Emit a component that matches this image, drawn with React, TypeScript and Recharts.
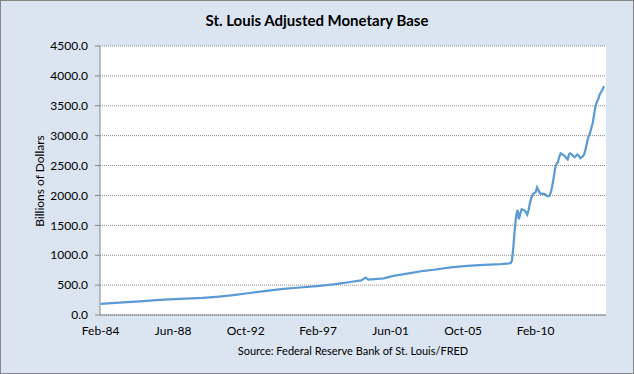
import React from "react";
import { LineChart, Line, XAxis, YAxis, CartesianGrid } from "recharts";

// monthly AMBSL readings (billions of dollars)
const obsDates = [
  "1984-02", "1985-06", "1986-06", "1987-06", "1988-03", "1989-03", "1990-03", "1991-01",
  "1992-01", "1993-01", "1994-01", "1995-01", "1996-01", "1997-01", "1998-01", "1999-01",
  "1999-09", "1999-12", "2000-02", "2001-01", "2001-08", "2002-08", "2003-06", "2004-01",
  "2005-01", "2006-01", "2007-01", "2008-01", "2008-08", "2008-09", "2008-10", "2008-11",
  "2008-12", "2009-01", "2009-02", "2009-03", "2009-04", "2009-05", "2009-06", "2009-07",
  "2009-08", "2009-09", "2009-10", "2009-11", "2009-12", "2010-01", "2010-02", "2010-03",
  "2010-04", "2010-05", "2010-06", "2010-07", "2010-08", "2010-09", "2010-10", "2010-11",
  "2010-12", "2011-01", "2011-02", "2011-03", "2011-04", "2011-05", "2011-06", "2011-07",
  "2011-08", "2011-09", "2011-10", "2011-11", "2011-12", "2012-01", "2012-02", "2012-03",
  "2012-04", "2012-05", "2012-06", "2012-07", "2012-08", "2012-09", "2012-10", "2012-11",
  "2012-12", "2013-01", "2013-02", "2013-03", "2013-04", "2013-05", "2013-06", "2013-07",
  "2013-08", "2013-09", "2013-10", "2013-11", "2013-12", "2014-01", "2014-02", "2014-03",
];
const baseValues = [
  185, 211, 227, 247, 260, 272, 285, 305,
  334, 368, 405, 438, 460, 484, 512, 552,
  580, 625, 592, 612, 655, 700, 740, 757,
  795, 823, 840, 853, 865, 905, 1130, 1420,
  1650, 1760, 1600, 1700, 1770, 1760, 1750, 1720,
  1680, 1760, 1880, 1960, 2020, 2040, 2050, 2135,
  2090, 2040, 2028, 2030, 2025, 2015, 1995, 1985,
  1995, 2060, 2160, 2300, 2450, 2530, 2555, 2650,
  2705, 2690, 2675, 2660, 2620, 2600, 2690, 2705,
  2685, 2660, 2640, 2665, 2685, 2660, 2625, 2640,
  2655, 2700, 2790, 2900, 2990, 3045, 3130, 3210,
  3360, 3500, 3570, 3615, 3690, 3730, 3770, 3830,
];

const xTickDates = ["1984-02", "1988-06", "1992-10", "1997-02", "2001-06", "2005-10", "2010-02"];
const xTickLabels = ["Feb-84", "Jun-88", "Oct-92", "Feb-97", "Jun-01", "Oct-05", "Feb-10"];
const yTicks = [0, 500, 1000, 1500, 2000, 2500, 3000, 3500, 4000, 4500];

const START = "1984-02";
const LAST = "2014-04";

// months since Feb-84
const monthIndex = (d: string) => {
  const [y, m] = d.split("-").map(Number);
  const [y0, m0] = START.split("-").map(Number);
  return (y - y0) * 12 + (m - m0);
};

const data = obsDates.map((d, i) => ({ m: monthIndex(d), v: baseValues[i] }));
const xTicks = xTickDates.map(monthIndex);

const FONT = "Lato, 'Open Sans', sans-serif";

export default function App() {
  return (
    <div
      style={{
        position: "absolute",
        left: 0,
        top: 0,
        width: 634,
        height: 374,
        boxSizing: "border-box",
        border: "1px solid #868686",
        background: "#dbe5f1",
        fontFamily: FONT,
      }}
    >
      <div
        style={{
          position: "absolute",
          left: 0,
          width: 632,
          top: 10,
          textAlign: "center",
          fontWeight: 700,
          fontSize: 15,
          color: "#000",
        }}
      >
        St. Louis Adjusted Monetary Base
      </div>

      <div
        style={{
          position: "absolute",
          left: 39 - 60,
          top: 180 - 8,
          width: 120,
          height: 16,
          lineHeight: "16px",
          textAlign: "center",
          fontSize: 12,
          color: "#000",
          transform: "rotate(-90deg)",
        }}
      >
        Billions of Dollars
      </div>

      <div
        style={{
          position: "absolute",
          left: 100 - 1,
          width: 506,
          top: 343,
          textAlign: "center",
          fontSize: 11,
          color: "#000",
        }}
      >
        Source: Federal Reserve Bank of St. Louis/FRED
      </div>

      <LineChart
        width={632}
        height={372}
        data={data}
        margin={{ top: 45, right: 27, left: 0, bottom: 18 }}
      >
        <CartesianGrid
          vertical={false}
          stroke="#868686"
          strokeDasharray="1 1"
          fill="#ffffff"
          fillOpacity={1}
        />
        <XAxis
          type="number"
          dataKey="m"
          domain={[-0.5, monthIndex(LAST) + 0.5]}
          ticks={xTicks}
          interval={0}
          tickFormatter={(v: number) => xTickLabels[xTicks.indexOf(v)] ?? ""}
          tickLine={false}
          tickSize={0}
          tickMargin={11}
          height={40}
          axisLine={{ stroke: "#868686", strokeWidth: 1 }}
          tick={{ fontSize: 12, fill: "#000", fontFamily: FONT }}
        />
        <YAxis
          type="number"
          domain={[0, 4500]}
          ticks={yTicks}
          interval={0}
          width={99}
          tickFormatter={(v: number) => v.toFixed(1)}
          tickSize={5}
          tickMargin={7}
          axisLine={{ stroke: "#868686", strokeWidth: 1 }}
          tickLine={{ stroke: "#868686" }}
          tick={{ fontSize: 12, fill: "#000", fontFamily: FONT }}
        />
        <Line
          type="linear"
          dataKey="v"
          stroke="#5b9bd5"
          strokeWidth={2.25}
          dot={false}
          isAnimationActive={false}
        />
      </LineChart>
    </div>
  );
}
